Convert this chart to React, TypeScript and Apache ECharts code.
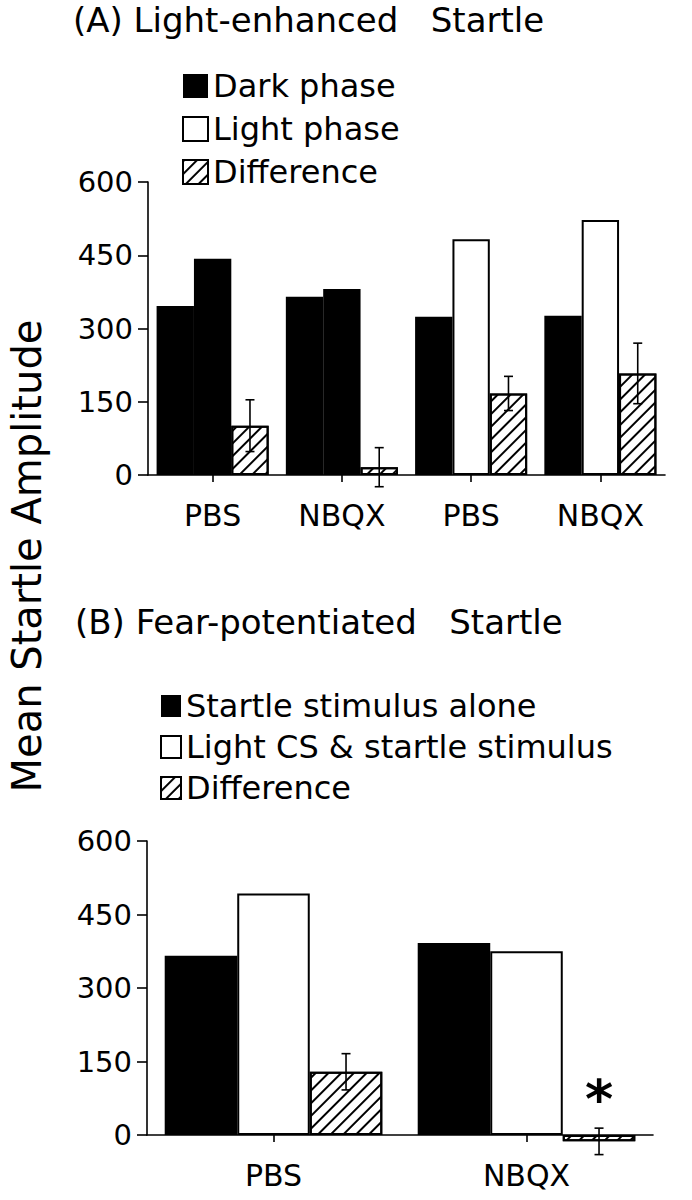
import React, { useEffect, useRef } from 'react';
import * as echarts from 'echarts';

const FONT = 'DejaVu Sans';

// Panel A: Light-enhanced startle
const catsA = ['PBS', 'NBQX', 'PBS', 'NBQX'];
const darkPhase = [346, 365, 324, 326];
const lightPhase = [443, 381, 483, 522];
const diffA = [101, 16, 167, 208];
const errA = [53, 40, 35, 62];

// Panel B: Fear-potentiated startle
const catsB = ['PBS', 'NBQX'];
const stimAlone = [366, 392];
const lightCS = [493, 375];
const diffB = [129, -13];
const errB = [37, 27];
const sigB = ['', '*'];

const Y_MIN = 0;
const Y_MAX = 600;
const Y_STEP = 150;

// styling (kept apart from data)
const lightPhaseFill = ['#000', '#000', '#fff', '#fff'];
const GAP_A = 0.133;
const GAP_B = 0.14;

const hatch: any = {
  symbol: 'rect',
  symbolSize: 1,
  color: '#000',
  dashArrayX: [1, 0],
  dashArrayY: [2, 7],
  rotation: -Math.PI / 4,
};

const txt = (size: number) => ({ fontFamily: FONT, fontSize: size, color: '#000', fontWeight: 'normal' as const });

function errorSeries(values: number[], errs: number[], gap: number, axisIdx: number, marks?: string[]) {
  return {
    type: 'custom',
    xAxisIndex: axisIdx,
    yAxisIndex: axisIdx,
    z: 10,
    silent: true,
    clip: false,
    data: values.map((v, i) => [i, v, errs[i]]),
    encode: { x: 0, y: 1 },
    renderItem: (params: any, api: any) => {
      const i = api.value(0);
      const v = api.value(1);
      const e = api.value(2);
      const band = api.size([1, 0])[0];
      const bw = (band * (1 - gap)) / 3;
      const cx = api.coord([i, v])[0] + bw;
      const yTop = api.coord([i, v + e])[1];
      const yBot = api.coord([i, v - e])[1];
      const cap = 4.5;
      const ls = { stroke: '#000', lineWidth: 1.6 };
      const children: any[] = [
        { type: 'line', shape: { x1: cx, y1: yTop, x2: cx, y2: yBot }, style: ls },
        { type: 'line', shape: { x1: cx - cap, y1: yTop, x2: cx + cap, y2: yTop }, style: ls },
        { type: 'line', shape: { x1: cx - cap, y1: yBot, x2: cx + cap, y2: yBot }, style: ls },
      ];
      const m = marks ? marks[params.dataIndex] : '';
      if (m) {
        children.push({
          type: 'text',
          style: {
            text: m,
            x: cx,
            y: yTop - 29,
            align: 'center',
            verticalAlign: 'middle',
            fontFamily: FONT,
            fontSize: 54,
            fontWeight: 'bold',
            fill: '#000',
          },
        });
      }
      return { type: 'group', children };
    },
  };
}

function xAxisCfg(cats: string[], gridIndex: number) {
  return {
    type: 'category',
    gridIndex,
    data: cats,
    axisLine: { show: true, lineStyle: { color: '#000', width: 1.6 } },
    axisTick: { show: true, alignWithLabel: true, length: 7, lineStyle: { color: '#000', width: 1.6 } },
    axisLabel: { ...txt(30), margin: 25 },
    splitLine: { show: false },
  };
}

function yAxisCfg(gridIndex: number) {
  return {
    type: 'value',
    gridIndex,
    min: Y_MIN,
    max: Y_MAX,
    interval: Y_STEP,
    axisLine: { show: true, lineStyle: { color: '#000', width: 1.6 } },
    axisTick: { show: true, length: 10, lineStyle: { color: '#000', width: 1.6 } },
    axisLabel: { ...txt(29), margin: 15 },
    splitLine: { show: false },
  };
}

export default function App() {
  const ref = useRef<HTMLDivElement>(null);
  useEffect(() => {
    if (!ref.current) return;
    const chart = echarts.init(ref.current, undefined, { renderer: 'svg' });
    const solid = { color: '#000', borderColor: '#000', borderWidth: 0 };
    const open = { color: '#fff', borderColor: '#000', borderWidth: 2 };
    const hatched = { color: '#fff', borderColor: '#000', borderWidth: 2, decal: hatch };
    const option: any = {
      animation: false,
      backgroundColor: '#fff',
      title: [
        { text: '(A) Light-enhanced   Startle', left: 73, top: 3, padding: 0, textStyle: txt(34) },
        { text: '(B) Fear-potentiated   Startle', left: 75, top: 605, padding: 0, textStyle: txt(34) },
      ],
      legend: [
        {
          data: ['Dark phase', 'Light phase', 'Difference'],
          orient: 'vertical',
          left: 177,
          top: 65,
          itemWidth: 25,
          itemHeight: 24,
          itemGap: 11,
          icon: 'rect',
          selectedMode: false,
          textStyle: txt(32),
        },
        {
          data: ['Startle stimulus alone', 'Light CS & startle stimulus', 'Difference '],
          orient: 'vertical',
          left: 155,
          top: 685,
          itemWidth: 20,
          itemHeight: 22,
          itemGap: 9,
          icon: 'rect',
          selectedMode: false,
          textStyle: txt(32),
        },
      ],
      grid: [
        { left: 148, top: 182, width: 517, height: 293 },
        { left: 147, top: 841, width: 506, height: 294 },
      ],
      xAxis: [xAxisCfg(catsA, 0), xAxisCfg(catsB, 1)],
      yAxis: [yAxisCfg(0), yAxisCfg(1)],
      graphic: [
        {
          type: 'text',
          x: 27,
          y: 556,
          rotation: Math.PI / 2,
          style: {
            text: 'Mean Startle Amplitude',
            align: 'center',
            verticalAlign: 'middle',
            fontFamily: FONT,
            fontSize: 40,
            fill: '#000',
          },
        },
      ],
      series: [
        {
          name: 'Dark phase', type: 'bar', xAxisIndex: 0, yAxisIndex: 0,
          barGap: '0%', barCategoryGap: `${GAP_A * 100}%`, clip: false,
          itemStyle: solid, data: darkPhase,
        },
        {
          name: 'Light phase', type: 'bar', xAxisIndex: 0, yAxisIndex: 0, clip: false,
          itemStyle: open,
          data: lightPhase.map((v, i) => ({ value: v, itemStyle: { color: lightPhaseFill[i] } })),
        },
        {
          name: 'Difference', type: 'bar', xAxisIndex: 0, yAxisIndex: 0, clip: false,
          itemStyle: hatched, data: diffA,
        },
        errorSeries(diffA, errA, GAP_A, 0),
        {
          name: 'Startle stimulus alone', type: 'bar', xAxisIndex: 1, yAxisIndex: 1,
          barGap: '0%', barCategoryGap: `${GAP_B * 100}%`, clip: false,
          itemStyle: solid, data: stimAlone,
        },
        {
          name: 'Light CS & startle stimulus', type: 'bar', xAxisIndex: 1, yAxisIndex: 1, clip: false,
          itemStyle: open, data: lightCS,
        },
        {
          name: 'Difference ', type: 'bar', xAxisIndex: 1, yAxisIndex: 1, clip: false,
          itemStyle: hatched, data: diffB,
        },
        errorSeries(diffB, errB, GAP_B, 1, sigB),
      ],
    };
    chart.setOption(option);
    return () => chart.dispose();
  }, []);
  return (
    <div
      ref={ref}
      style={{ position: 'absolute', left: 0, top: 0, width: 692, height: 1200 }}
    />
  );
}
